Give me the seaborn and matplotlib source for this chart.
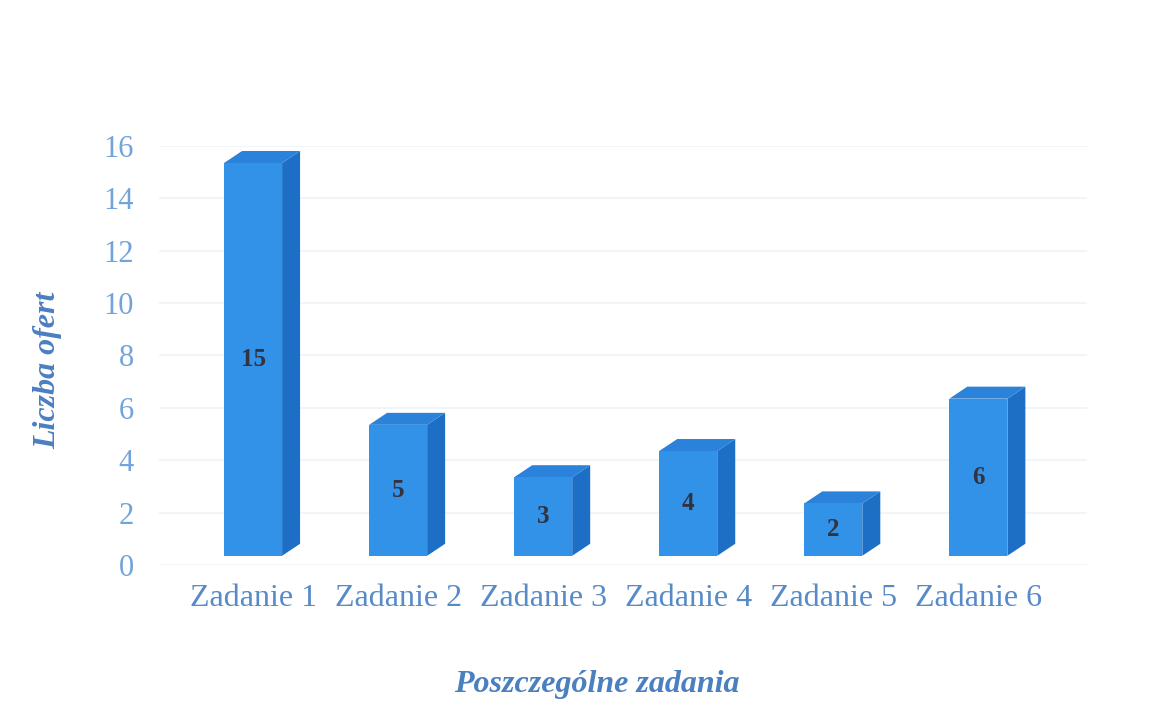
import matplotlib
matplotlib.use("Agg")
import numpy as np
import pandas as pd
import matplotlib.pyplot as plt
import seaborn as sns
from matplotlib.patches import Polygon

categories = ["Zadanie 1", "Zadanie 2", "Zadanie 3", "Zadanie 4", "Zadanie 5", "Zadanie 6"]
offers = [15, 5, 3, 4, 2, 6]
yticks = [0, 2, 4, 6, 8, 10, 12, 14, 16]

df = pd.DataFrame({"zadanie": categories, "oferty": offers})

sns.set_theme(style="white")
plt.rcParams["font.family"] = ["Liberation Serif", "DejaVu Serif"]

front = "#3192e8"
side = "#1d6fc6"
top = "#2a82da"

fig = plt.figure(figsize=(11.59, 7.28), dpi=100)
ax = fig.add_axes([0.137, 0.224, 0.801, 0.5755])

sns.barplot(data=df, x="zadanie", y="oferty", color=front, width=0.4,
            saturation=1, ax=ax, zorder=3)

ax.set_ylim(0, 16)
ax.set_xlim(-0.65, 5.75)

# fake 3D: lift bars a bit, then add a side and a top face to each one
lift = 0.35
depth = np.array([0.18, 0.12]) * fig.dpi  # pixels right / up
inv = ax.transData.inverted()
for p, val in zip(list(ax.patches), offers):
    p.set_y(p.get_y() + lift)
    p.set_edgecolor("none")
    x0, w = p.get_x(), p.get_width()
    y0, y1 = lift, lift + val
    a = ax.transData.transform([(x0 + w, y0), (x0 + w, y1), (x0, y1)])
    side_face = [a[0], a[1], a[1] + depth, a[0] + depth]
    top_face = [a[2], a[1], a[1] + depth, a[2] + depth]
    ax.add_patch(Polygon(inv.transform(side_face), closed=True, facecolor=side,
                         edgecolor="none", zorder=2, clip_on=False))
    ax.add_patch(Polygon(inv.transform(top_face), closed=True, facecolor=top,
                         edgecolor="none", zorder=2, clip_on=False))
    ax.text(x0 + w / 2, y0 + val / 2, str(val), ha="center", va="center",
            fontsize=18, fontweight="bold", color="#33333f", zorder=5)

ax.set_yticks(yticks)
ax.yaxis.grid(True, color="#eef3f9", linewidth=1.2, zorder=0)
for s_ in ax.spines.values():
    s_.set_visible(False)
ax.tick_params(axis="y", labelsize=22, labelcolor="#72a3da", pad=18, length=0)
ax.tick_params(axis="x", labelsize=23, labelcolor="#568bc9", pad=14, length=0)
ax.set_xlabel("Poszczególne zadania", fontsize=23, fontstyle="italic",
              fontweight="bold", color="#4a7fc0")
ax.set_ylabel("Liczba ofert", fontsize=23, fontstyle="italic",
              fontweight="bold", color="#4a7fc0")
ax.xaxis.set_label_coords(0.472, -0.25)
ax.yaxis.set_label_coords(-0.104, 0.465)

fig.savefig("out.png", dpi=100)
